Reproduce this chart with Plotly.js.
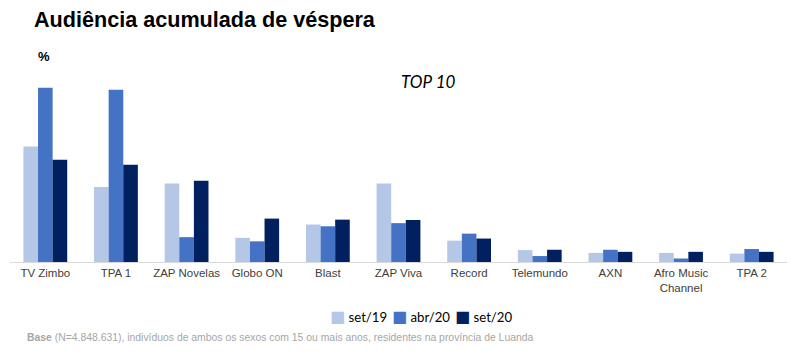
<!DOCTYPE html>
<html>
<head>
<meta charset="utf-8">
<script src="https://cdn.plot.ly/plotly-3.0.1.min.js"></script>
<style>html,body{margin:0;padding:0;background:#fff;}#chart{width:793px;height:355px;}</style>
</head>
<body>
<div id="chart"></div>
<script>
const categories = ["TV Zimbo", "TPA 1", "ZAP Novelas", "Globo ON", "Blast", "ZAP Viva", "Record", "Telemundo", "AXN", "Afro Music<br>Channel", "TPA 2"];
const seriesNames = ["set/19", "abr/20", "set/20"];
const set19 = [33.0, 21.4, 22.4, 6.9, 10.7, 22.4, 6.1, 3.4, 2.6, 2.6, 2.4];
const abr20 = [49.8, 49.2, 7.1, 5.9, 10.2, 11.1, 8.1, 1.7, 3.5, 1.0, 3.7];
const set20 = [29.2, 27.8, 23.2, 12.4, 12.1, 12.0, 6.7, 3.5, 2.9, 2.9, 2.9];
const colors = ["#b4c7e7", "#4472c4", "#002060"];

const traces = [set19, abr20, set20].map((vals, i) => ({
  type: "bar",
  name: seriesNames[i],
  x: categories,
  y: vals,
  marker: {color: colors[i]},
  hoverinfo: "x+y+name"
}));

const px = p => (p - 10) / 777;
const py = q => (262.3 - q) / 182;

const legendLeft = [328, 390, 453];
const legendAnn = seriesNames.map((n, i) => ({
  text: "<span style='color:" + colors[i] + ";font-family:DejaVu Sans;font-size:16px'>■</span>&nbsp;" + n,
  xref: "paper", yref: "paper",
  x: px(legendLeft[i]), y: py(317), xanchor: "left", yanchor: "middle", showarrow: false,
  font: {family: "Lato, sans-serif", size: 13.2, color: "#000000"}
}));

const layout = {
  width: 793, height: 355,
  margin: {l: 10, r: 6, t: 80, b: 93, pad: 0},
  paper_bgcolor: "#ffffff",
  plot_bgcolor: "#ffffff",
  barmode: "group",
  bargap: 0.38,
  bargroupgap: 0,
  font: {family: "Liberation Sans, Arial, sans-serif", color: "#404040"},
  xaxis: {
    type: "category",
    showgrid: false,
    zeroline: false,
    showline: true,
    linecolor: "#d9d9d9",
    linewidth: 1,
    ticks: "",
    tickfont: {size: 11.5, color: "#404040"},
    fixedrange: true
  },
  yaxis: {
    range: [0, 52],
    visible: false,
    showgrid: false,
    zeroline: false,
    fixedrange: true
  },
  showlegend: false,
  annotations: [
    {text: "<b>Audiência acumulada de véspera</b>", xref: "paper", yref: "paper",
     x: px(32), y: py(20), xanchor: "left", yanchor: "middle", showarrow: false,
     font: {family: "Liberation Sans, Arial, sans-serif", size: 21.6, color: "#000000"}},
    {text: "<b>%</b>", xref: "paper", yref: "paper",
     x: px(36), y: py(57), xanchor: "left", yanchor: "middle", showarrow: false,
     font: {family: "Liberation Sans, Arial, sans-serif", size: 13, color: "#000000"}},
    {text: "<i>TOP 10</i>", xref: "paper", yref: "paper",
     x: px(399), y: py(82), xanchor: "left", yanchor: "middle", showarrow: false,
     font: {family: "Lato, sans-serif", size: 17, color: "#000000"}},
    {text: "<b>Base</b> (N=4.848.631), indivíduos de ambos os sexos com 15 ou mais anos, residentes na província de Luanda",
     xref: "paper", yref: "paper",
     x: px(25), y: py(338), xanchor: "left", yanchor: "middle", showarrow: false,
     font: {family: "Liberation Sans, Arial, sans-serif", size: 10.4, color: "#a6a6a6"}}
  ].concat(legendAnn)
};

Plotly.newPlot("chart", traces, layout, {displayModeBar: false, staticPlot: true});
</script>
</body>
</html>
